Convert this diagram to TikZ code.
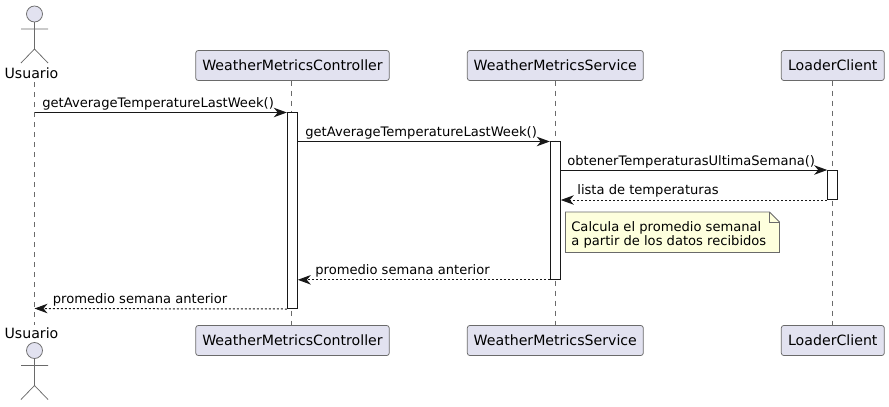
\documentclass[tikz,border=0pt]{standalone}
\usepackage{fontspec}
\setmainfont{DejaVu Sans}
\usetikzlibrary{positioning, shapes.geometric, arrows.meta, calc}
\definecolor{umlline}{HTML}{181818}
\definecolor{umlgray}{HTML}{6A6A6A}
\definecolor{umlbox}{HTML}{E2E2F0}
\definecolor{umlnote}{HTML}{FEFFDD}
\tikzset{
  partbox/.style={draw=umlgray, line width=0.15mm, fill=umlbox, rounded corners=0.5mm, minimum height=6mm, inner sep=0pt, font=\fontsize{8.05}{10}\selectfont},
  activbox/.style={draw=umlline, line width=0.2mm, fill=white, minimum width=2mm, inner sep=0pt},
  lifeline/.style={draw=umlgray, line width=0.12mm, dash pattern=on 1mm off 1mm},
  callarrow/.style={draw=umlline, line width=0.2mm, -{Stealth[length=2.6mm, width=1.9mm, inset=0.8mm]}},
  replyarrow/.style={callarrow, dash pattern=on 0.4mm off 0.4mm},
  msglabel/.style={font=\fontsize{7.45}{9}\selectfont, text=black, inner sep=0pt, anchor=base west},
  actorlabel/.style={font=\fontsize{8.05}{10}\selectfont, inner sep=0pt}
}
\newcommand{\actorfig}[1]{% head centre at (34.5,#1)
  \fill[umlbox] (34.5,#1) circle (8);
  \draw[umlgray, line width=0.15mm] (34.5,#1) circle (8);
  \draw[umlgray, line width=0.15mm] (34.5,#1+8) -- (34.5,#1+35)
    (21,#1+15) -- (48,#1+15)
    (21,#1+49) -- (34.5,#1+35) -- (48,#1+49);
}
\begin{document}
\begin{tikzpicture}[x=0.2mm, y=-0.2mm]
  \useasboundingbox (0,0) rectangle (889,406);
  % lifelines
  \coordinate (usertop) at (34.5,82);
  \coordinate (userbot) at (34.5,325);
  \coordinate (userin) at (34.5,112.5);
  \coordinate (userback) at (34.5,308.5);
  \draw[lifeline] (usertop) -- (userbot);
  \draw[lifeline] (291.5,80.5) -- (291.5,325.5);
  \draw[lifeline] (555.3,80.5) -- (555.3,325.5);
  \draw[lifeline] (832.3,80.5) -- (832.3,325.5);
  % participants
  \actorfig{14}
  \actorfig{350.5}
  \node[actorlabel] (usertxt) at (31.5,73) {Usuario};
  \node[actorlabel] (userlow) at (31.5,333) {Usuario};
  \node[partbox, minimum width=38.7mm] (ctrl) at (292.5,65.5) {WeatherMetricsController};
  \node[partbox, minimum width=35.2mm] (serv) at (555.3,65.5) {WeatherMetricsService};
  \node[partbox, minimum width=20.6mm] (load) at (832.8,65.5) {LoaderClient};
  \node[partbox, minimum width=38.7mm] (ctrlb) at (292.5,340.5) {WeatherMetricsController};
  \node[partbox, minimum width=35.2mm] (servb) at (555.3,340.5) {WeatherMetricsService};
  \node[partbox, minimum width=20.6mm] (loadb) at (832.8,340.5) {LoaderClient};
  % activations
  \node[activbox, minimum height=39.2mm] (actctrl) at (292.3,210.5) {};
  \node[activbox, minimum height=27.6mm] (actserv) at (555.3,210.3) {};
  \node[activbox, minimum height=5.8mm] (actload) at (832.7,185) {};
  % note
  \draw[umlgray, line width=0.15mm, fill=umlnote] (565.5,212) -- (565.5,252.5) -- (779.5,252.5)
    -- (779.5,222) -- (769.5,212) -- cycle;
  \draw[umlgray, line width=0.15mm] (769.5,212) -- (769.5,222) -- (779.5,222);
  \node[msglabel, align=left] (notetxt) at (571,231) {Calcula el promedio semanal};
  \node[msglabel] (notetxtb) at (571,245.5) {a partir de los datos recibidos};
  % messages
  \draw[callarrow] (userin) -- (actctrl.west |- userin);
  \draw[callarrow] (actctrl.east |- 0,141.5) -- (actserv.west |- 0,141.5);
  \draw[callarrow] (actserv.east |- actload.north) -- (actload.north west);
  \draw[replyarrow] (actload.south west) -- (actserv.east |- actload.south);
  \draw[replyarrow] (actserv.south west) -- (actctrl.east |- actserv.south);
  \draw[replyarrow] (actctrl.south west) -- (userback);
  \node[msglabel] (msga) at (42,107) {getAverageTemperatureLastWeek()};
  \node[msglabel] (msgb) at (305,136) {getAverageTemperatureLastWeek()};
  \node[msglabel] (msgc) at (567,165) {obtenerTemperaturasUltimaSemana()};
  \node[msglabel] (msgd) at (577,194.5) {lista de temperaturas};
  \node[msglabel] (msge) at (315,274) {promedio semana anterior};
  \node[msglabel] (msgf) at (52.5,303.5) {promedio semana anterior};
\end{tikzpicture}
\end{document}
